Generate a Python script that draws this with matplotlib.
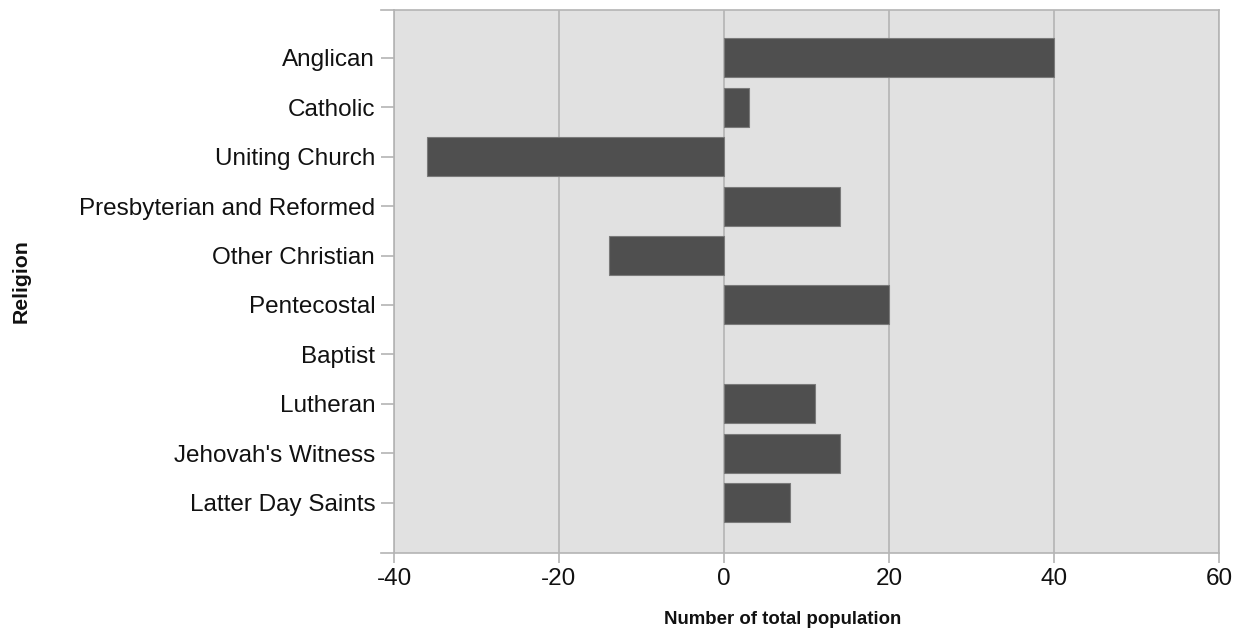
import matplotlib
matplotlib.use('Agg')
import matplotlib.pyplot as plt
from matplotlib.lines import Line2D

# Change in number of people by religion
religions = ['Anglican', 'Catholic', 'Uniting Church', 'Presbyterian and Reformed',
             'Other Christian', 'Pentecostal', 'Baptist', 'Lutheran',
             "Jehovah's Witness", 'Latter Day Saints']
values = [40, 3, -36, 14, -14, 20, 0, 11, 14, 8]
x_ticks = [-40, -20, 0, 20, 40, 60]

plt.rcParams['font.family'] = ['Liberation Sans', 'DejaVu Sans']

grid_col = '#b4b4b4'

fig = plt.figure(figsize=(12.44, 6.35), dpi=100)
ax = fig.add_axes([394 / 1244, 1 - 553 / 635, 825 / 1244, 543 / 635])
ax.set_facecolor('#e1e1e1')

pos = list(range(len(religions)))
# no outline on empty bars (Baptist)
edge_w = [0.8 if v != 0 else 0 for v in values]
ax.barh(pos, values, height=0.79, color='#4f4f4f', edgecolor='#7a7a7a',
        linewidth=edge_w, zorder=3)

ax.set_xlim(-40, 60)
ax.set_ylim(len(religions) - 1 + 1.02, -0.97)
ax.set_xticks(x_ticks)
ax.set_xticklabels([str(t) for t in x_ticks])
ax.set_yticks(pos)
ax.set_yticklabels(religions)

ax.grid(axis='x', color=grid_col, linewidth=1.2, zorder=1)
ax.grid(axis='y', visible=False)

for side in ['top', 'bottom', 'left', 'right']:
    ax.spines[side].set_color(grid_col)
    ax.spines[side].set_linewidth(1.2)

ax.tick_params(axis='both', colors=grid_col, labelcolor='#111111',
               labelsize=17.5, width=1.2)
ax.tick_params(axis='y', length=9.5, pad=4)
ax.tick_params(axis='x', length=7.5, pad=3)

# top and bottom frame lines stick out to the left like ticks
for yy in [0, 1]:
    ax.add_line(Line2D([-13 / 825, 0], [yy, yy], transform=ax.transAxes,
                       color=grid_col, linewidth=1.2, clip_on=False))

ax.set_xlabel('Number of total population', fontsize=13.4, fontweight='bold',
              color='#111111')
ax.xaxis.set_label_coords(0.4715, -0.106)
ax.set_ylabel('Religion', fontsize=15.3, fontweight='bold', color='#111111')
ax.yaxis.set_label_coords(-363 / 825, 0.5)

fig.savefig('out.png', dpi=100)
plt.close(fig)
